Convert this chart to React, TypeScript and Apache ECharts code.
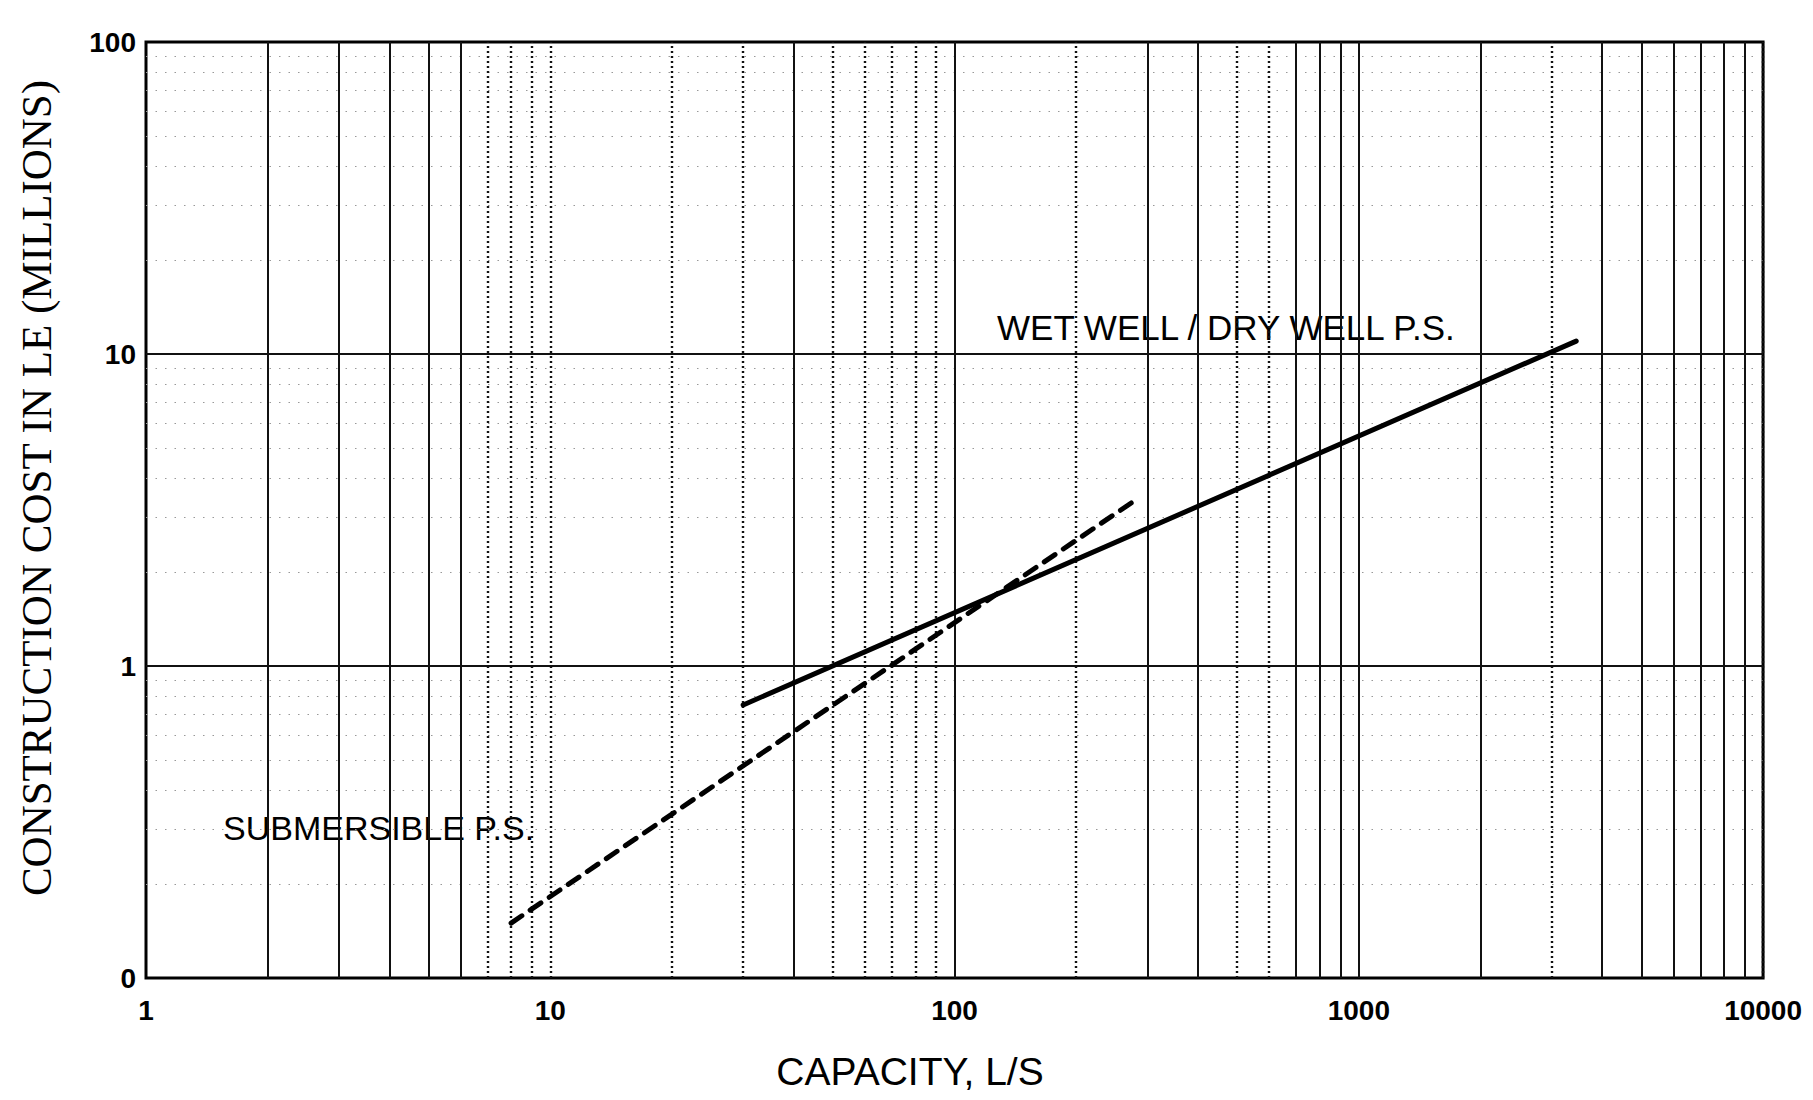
import React, { useEffect, useRef } from "react";
import * as echarts from "echarts";

// ---- data ----
const xTickValues = [1, 10, 100, 1000, 10000];
const yTickValues = [0.1, 1, 10, 100];
const yTickLabels = ["0", "1", "10", "100"];

const wetWellCapacity = [30, 3450];
const wetWellCost = [0.75, 11];

const submersibleCapacity = [8, 280];
const submersibleCost = [0.15, 3.4];

// vertical grid lines (capacity values) as they appear in the scan
const solidGridX = [2, 3, 4, 5, 6, 40, 100, 300, 400, 700, 800, 900, 1000, 2000, 4000, 5000, 6000, 7000, 8000, 9000];
const dottedGridX = [7, 8, 9, 10, 20, 30, 50, 60, 70, 80, 90, 200, 500, 600, 3000, 10000];
// horizontal grid lines (cost values)
const majorGridY = [1, 10];
const yDecades = [0.1, 1, 10];
const gridMultipliers = [2, 3, 4, 5, 6, 7, 8, 9];

const wetWellLabel = "WET WELL / DRY WELL P.S.";
const submersibleLabel = "SUBMERSIBLE P.S.";
const xTitle = "CAPACITY, L/S";
const yTitle = "CONSTRUCTION COST IN LE (MILLIONS)";

export default function App() {
  const ref = useRef<HTMLDivElement>(null);

  useEffect(() => {
    if (!ref.current) return;
    const chart = echarts.init(ref.current, null, { renderer: "svg" });

    const minorGridY: number[] = [];
    yDecades.forEach((d) => gridMultipliers.forEach((m) => minorGridY.push(+(d * m).toPrecision(3))));

    const markLineData: any[] = [];
    minorGridY.forEach((v) =>
      markLineData.push({ yAxis: v, lineStyle: { color: "#999", width: 1.2, type: [1.5, 8] } })
    );
    solidGridX.forEach((v) =>
      markLineData.push({ xAxis: v, lineStyle: { color: "#111", width: 2, type: "solid" } })
    );
    dottedGridX.forEach((v) =>
      markLineData.push({ xAxis: v, lineStyle: { color: "#111", width: 2.4, type: [2, 3] } })
    );
    majorGridY.forEach((v) =>
      markLineData.push({ yAxis: v, lineStyle: { color: "#111", width: 2, type: "solid" } })
    );

    const fmtY = (v: number) => {
      for (let i = 0; i < yTickValues.length; i++) {
        if (Math.abs(Math.log10(v) - Math.log10(yTickValues[i])) < 1e-6) return yTickLabels[i];
      }
      return "";
    };

    chart.setOption({
      animation: false,
      backgroundColor: "#fff",
      grid: {
        left: 138,
        right: 33,
        top: 34,
        bottom: 114,
        show: true,
        borderColor: "#000",
        borderWidth: 3,
        backgroundColor: "transparent",
      },
      xAxis: {
        type: "log",
        logBase: 10,
        min: xTickValues[0],
        max: xTickValues[xTickValues.length - 1],
        axisLine: { show: false },
        axisTick: { show: false },
        splitLine: { show: false },
        minorSplitLine: { show: false },
        axisLabel: {
          show: true,
          showMinLabel: true,
          showMaxLabel: true,
          margin: 18,
          color: "#000",
          fontFamily: "Liberation Sans",
          fontWeight: "bold",
          fontSize: 28,
          formatter: (v: number) => String(Math.round(v)),
        },
      },
      yAxis: {
        type: "log",
        logBase: 10,
        min: yTickValues[0],
        max: yTickValues[yTickValues.length - 1],
        axisLine: { show: false },
        axisTick: { show: false },
        splitLine: { show: false },
        minorSplitLine: { show: false },
        axisLabel: {
          show: true,
          showMinLabel: true,
          showMaxLabel: true,
          margin: 10,
          color: "#000",
          fontFamily: "Liberation Sans",
          fontWeight: "bold",
          fontSize: 28,
          formatter: fmtY,
        },
      },
      graphic: [
        {
          type: "text",
          left: 989,
          top: 302,
          style: {
            text: wetWellLabel,
            font: "normal 35px 'Liberation Sans'",
            fill: "#000",
          },
        },
        {
          type: "text",
          left: 215,
          top: 803,
          style: {
            text: submersibleLabel,
            font: "normal 34px 'Liberation Sans'",
            fill: "#000",
          },
        },
        {
          type: "text",
          x: 902,
          y: 1063,
          style: {
            text: xTitle,
            font: "normal 39px 'Liberation Sans'",
            fill: "#000",
            textAlign: "center",
            textVerticalAlign: "middle",
          },
        },
        {
          type: "text",
          x: 28,
          y: 480,
          rotation: Math.PI / 2,
          style: {
            text: yTitle,
            font: "normal 43px 'Liberation Serif'",
            fill: "#000",
            textAlign: "center",
            textVerticalAlign: "middle",
          },
        },
      ],
      series: [
        {
          name: "grid",
          type: "line",
          data: [],
          silent: true,
          markLine: {
            silent: true,
            symbol: ["none", "none"],
            label: { show: false },
            animation: false,
            data: markLineData,
          },
        },
        {
          name: "Wet well / dry well P.S.",
          type: "line",
          showSymbol: false,
          symbol: "none",
          lineStyle: { color: "#000", width: 5, cap: "round" },
          data: wetWellCapacity.map((x, i) => [x, wetWellCost[i]]),
          z: 5,
        },
        {
          name: "Submersible P.S.",
          type: "line",
          showSymbol: false,
          symbol: "none",
          lineStyle: { color: "#000", width: 5, type: [13, 10], cap: "round" },
          data: submersibleCapacity.map((x, i) => [x, submersibleCost[i]]),
          z: 5,
        },
      ],
    });

    return () => chart.dispose();
  }, []);

  return <div ref={ref} style={{ width: 1797, height: 1084, background: "#fff" }} />;
}
